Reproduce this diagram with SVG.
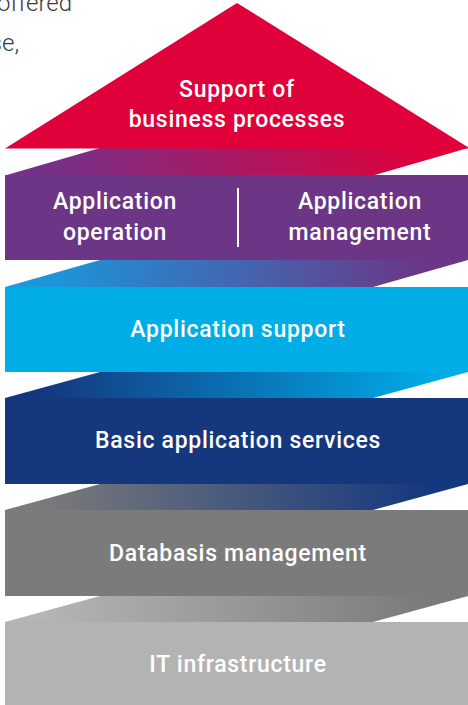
<svg xmlns="http://www.w3.org/2000/svg" width="468" height="705" viewBox="0 0 468 705">
  <style>
    .lbl { font-family: Roboto, "Liberation Sans", sans-serif; font-weight: 500; font-size: 23px; letter-spacing: 0.7px; fill: #ffffff; text-anchor: middle; }
    .body { font-family: Roboto, "Liberation Sans", sans-serif; font-weight: 300; font-size: 24px; fill: #3a3a3a; text-anchor: end; }
  </style>
  <defs>
    <linearGradient id="g1" x1="0.08" y1="0" x2="0.92" y2="0">
      <stop offset="0" stop-color="#74318a"/>
      <stop offset="1" stop-color="#e0003a"/>
    </linearGradient>
    <linearGradient id="g2" x1="0.08" y1="0" x2="0.92" y2="0">
      <stop offset="0" stop-color="#1a98dc"/>
      <stop offset="1" stop-color="#6c3585"/>
    </linearGradient>
    <linearGradient id="g3" x1="0.08" y1="0" x2="0.92" y2="0">
      <stop offset="0" stop-color="#14387f"/>
      <stop offset="1" stop-color="#00aae6"/>
    </linearGradient>
    <linearGradient id="g4" x1="0.08" y1="0" x2="0.92" y2="0">
      <stop offset="0" stop-color="#7a7a7a"/>
      <stop offset="1" stop-color="#14387f"/>
    </linearGradient>
    <linearGradient id="g5" x1="0.08" y1="0" x2="0.92" y2="0">
      <stop offset="0" stop-color="#b5b5b5"/>
      <stop offset="1" stop-color="#7a7a7a"/>
    </linearGradient>
  </defs>

  <g id="page-text">
    <text class="body" x="72" y="11">offered</text>
    <text class="body" x="19" y="51">se,</text>
  </g>

  <g id="connectors">
    <polygon points="100,148 468,148 373,175.5 5,175.5" fill="url(#g1)"/>
    <polygon points="100,260 468,260 373,287 5,287" fill="url(#g2)"/>
    <polygon points="100,372 468,372 373,398 5,398" fill="url(#g3)"/>
    <polygon points="100,484 468,484 373,510 5,510" fill="url(#g4)"/>
    <polygon points="100,596 468,596 373,622 5,622" fill="url(#g5)"/>
  </g>

  <g id="support-business-processes">
    <polygon points="237,3 470,148.5 5,148.5" fill="#e0003a"/>
    <text class="lbl" x="237" y="97">Support of</text>
    <text class="lbl" x="237" y="127">business processes</text>
  </g>

  <g id="application-operation-management">
    <rect x="5" y="175" width="465" height="85" fill="#6c3585"/>
    <line x1="238" y1="188" x2="238" y2="247" stroke="#ffffff" stroke-width="2"/>
    <text class="lbl" x="115" y="209">Application</text>
    <text class="lbl" x="115" y="240">operation</text>
    <text class="lbl" x="360" y="209">Application</text>
    <text class="lbl" x="360" y="240">management</text>
  </g>

  <g id="application-support">
    <rect x="5" y="287" width="465" height="85" fill="#00ade7"/>
    <text class="lbl" x="238" y="337">Application support</text>
  </g>

  <g id="basic-application-services">
    <rect x="5" y="398" width="465" height="86" fill="#14377e"/>
    <text class="lbl" x="238" y="448">Basic application services</text>
  </g>

  <g id="databasis-management">
    <rect x="5" y="510" width="465" height="86" fill="#7b7b7b"/>
    <text class="lbl" x="238" y="561">Databasis management</text>
  </g>

  <g id="it-infrastructure">
    <rect x="5" y="622" width="465" height="85" fill="#b3b3b3"/>
    <text class="lbl" x="238" y="672">IT infrastructure</text>
  </g>
</svg>
